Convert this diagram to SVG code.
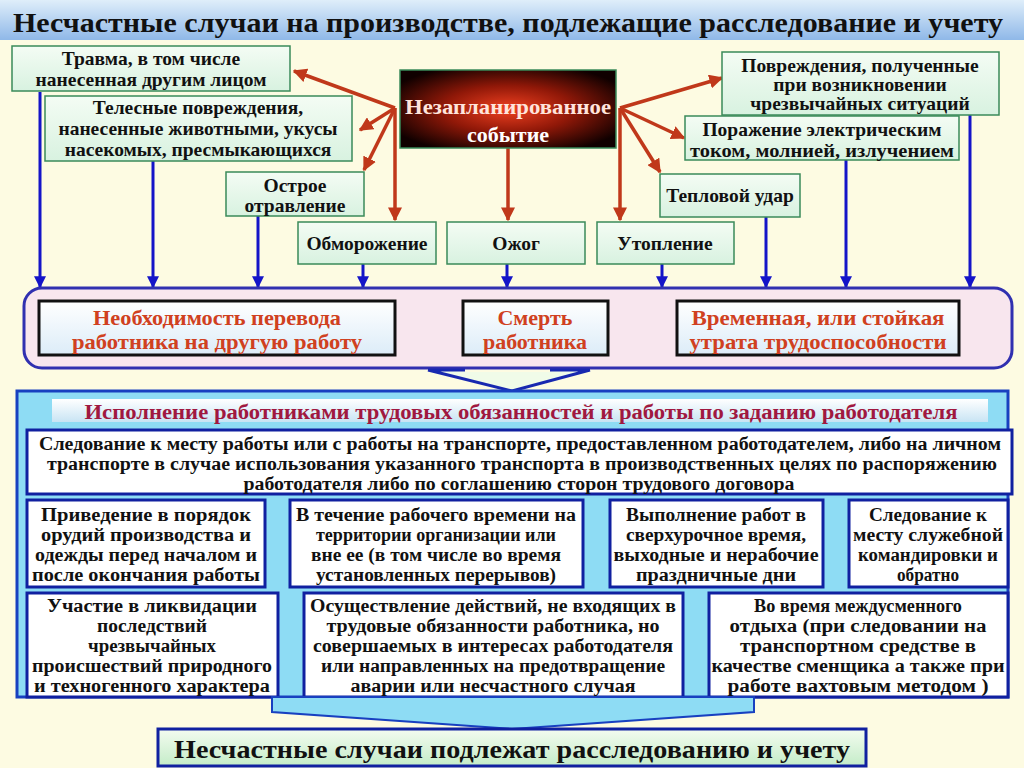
<svg xmlns="http://www.w3.org/2000/svg" width="1024" height="768" viewBox="0 0 1024 768">
<defs>
<linearGradient id="gTitle" x1="0" y1="0" x2="0" y2="1"><stop offset="0" stop-color="#dfeefa"/><stop offset="1" stop-color="#8fb8e8"/></linearGradient>
<linearGradient id="gGreen" x1="0" y1="0" x2="0" y2="1"><stop offset="0" stop-color="#f4fcf4"/><stop offset="1" stop-color="#d8f2e0"/></linearGradient>
<radialGradient id="gDark" cx="0.5" cy="0.5" r="0.6"><stop offset="0" stop-color="#f04020"/><stop offset="0.5" stop-color="#901808"/><stop offset="1" stop-color="#100000"/></radialGradient>
<linearGradient id="gInner" x1="0" y1="0" x2="0" y2="1"><stop offset="0" stop-color="#ffffff"/><stop offset="1" stop-color="#dcecf8"/></linearGradient>
<linearGradient id="gHead" x1="0" y1="0" x2="0" y2="1"><stop offset="0" stop-color="#ffffff"/><stop offset="1" stop-color="#c8e4f4"/></linearGradient>
<linearGradient id="gFinal" x1="0" y1="0" x2="0" y2="1"><stop offset="0" stop-color="#f4fcf0"/><stop offset="1" stop-color="#c4ecc8"/></linearGradient>
<marker id="aR" viewBox="0 0 10 10" refX="9" refY="5" markerWidth="4" markerHeight="4" orient="auto"><path d="M0,0 L10,5 L0,10 Z" fill="#c0381a"/></marker>
<marker id="aB" viewBox="0 0 10 10" refX="9" refY="5" markerWidth="4" markerHeight="4" orient="auto"><path d="M0,0 L10,5 L0,10 Z" fill="#1414c8"/></marker>
</defs>
<style>
text{font-family:"Liberation Serif","Times New Roman",serif;font-weight:bold;text-anchor:middle}
.g{fill:url(#gGreen);stroke:#3a8a5a;stroke-width:1.5}
.t15{font-size:19.5px;fill:#111}
.red{stroke:#c0381a;stroke-width:3.5;fill:none;marker-end:url(#aR)}
.blue{stroke:#1414c8;stroke-width:3;fill:none;marker-end:url(#aB)}
.inner{fill:url(#gInner);stroke:#111;stroke-width:3}
.rt{font-size:22px;fill:#d04020}
.w{fill:#fff;stroke:#1020a0;stroke-width:3}
.c{font-size:18px;fill:#111}
</style>
<rect width="1024" height="768" fill="#fdfbe2"/>
<rect width="1024" height="40" fill="url(#gTitle)"/>
<text x="508" y="32" font-size="27" fill="#111" textLength="990" lengthAdjust="spacingAndGlyphs">Несчастные случаи на производстве, подлежащие расследование и учету</text>

<g id="connectors">
<path class="red" d="M395,108 L294,71"/>
<path class="red" d="M395,108 L360,130"/>
<path class="red" d="M395,108 L364,170"/>
<path class="red" d="M395,108 L395,220"/>
<path class="red" d="M508,148 L508,220"/>
<path class="red" d="M620,108 L722,78"/>
<path class="red" d="M620,108 L684,138"/>
<path class="red" d="M620,108 L660,172"/>
<path class="red" d="M620,108 L620,220"/>
<path class="blue" d="M40,92 L40,287"/>
<path class="blue" d="M153,161 L153,287"/>
<path class="blue" d="M258,216 L258,287"/>
<path class="blue" d="M363,264 L363,287"/>
<path class="blue" d="M507,264 L507,287"/>
<path class="blue" d="M662,264 L662,287"/>
<path class="blue" d="M766,217 L766,287"/>
<path class="blue" d="M846,160 L846,287"/>
<path class="blue" d="M970,115 L970,287"/>
</g>

<g id="n-trauma"><rect class="g" x="12" y="46" width="278" height="45"/><text class="t15" x="151" y="65">Травма, в том числе</text><text class="t15" x="151" y="86">нанесенная другим лицом</text></g>
<g id="n-animals"><rect class="g" x="45" y="96" width="307" height="65"/><text class="t15" x="198" y="114">Телесные повреждения,</text><text class="t15" x="198" y="135">нанесенные животными, укусы</text><text class="t15" x="198" y="156">насекомых, пресмыкающихся</text></g>
<g id="n-poison"><rect class="g" x="226" y="172" width="138" height="44"/><text class="t15" x="295" y="192">Острое</text><text class="t15" x="295" y="212">отравление</text></g>
<g id="n-frost"><rect class="g" x="298" y="222" width="138" height="42"/><text class="t15" x="367" y="250">Обморожение</text></g>
<g id="n-burn"><rect class="g" x="447" y="222" width="138" height="42"/><text class="t15" x="516" y="250">Ожог</text></g>
<g id="n-drown"><rect class="g" x="597" y="222" width="137" height="42"/><text class="t15" x="665" y="250">Утопление</text></g>
<g id="n-heat"><rect class="g" x="660" y="174" width="140" height="43"/><text class="t15" x="730" y="202">Тепловой удар</text></g>
<g id="n-elec"><rect class="g" x="685" y="116" width="274" height="44"/><text class="t15" x="822" y="136">Поражение электрическим</text><text class="t15" x="822" y="157" textLength="264" lengthAdjust="spacingAndGlyphs">током, молнией, излучением</text></g>
<g id="n-emerg"><rect class="g" x="722" y="52" width="277" height="63"/><text class="t15" x="860" y="72">Повреждения, полученные</text><text class="t15" x="860" y="91">при возникновении</text><text class="t15" x="860" y="110">чрезвычайных ситуаций</text></g>
<g id="n-event"><rect x="400" y="70" width="216" height="78" fill="url(#gDark)" stroke="#3a8a5a" stroke-width="1.5"/><text x="508" y="114" font-size="22" fill="#ffe4dc" textLength="206" lengthAdjust="spacingAndGlyphs">Незапланированное</text><text x="508" y="142" font-size="22" fill="#ffffff">событие</text></g>

<g id="n-results">
<rect x="24" y="288" width="988" height="80" rx="18" fill="#f8e6ee" stroke="#3030b0" stroke-width="3"/>
<rect class="inner" x="39" y="301" width="356" height="54"/><text class="rt" x="217" y="325" textLength="248" lengthAdjust="spacingAndGlyphs">Необходимость перевода</text><text class="rt" x="217" y="349" textLength="290" lengthAdjust="spacingAndGlyphs">работника на другую работу</text>
<rect class="inner" x="463" y="301" width="145" height="54"/><text class="rt" x="535" y="325">Смерть</text><text class="rt" x="535" y="349">работника</text>
<rect class="inner" x="677" y="301" width="282" height="54"/><text class="rt" x="818" y="325" textLength="253" lengthAdjust="spacingAndGlyphs">Временная, или стойкая</text><text class="rt" x="818" y="349" textLength="257" lengthAdjust="spacingAndGlyphs">утрата трудоспособности</text>
</g>
<path d="M428,370 L465,370 L465,372 L550,372 L550,370 L590,370 L512,391 Z" fill="#f0fbe8" stroke="none"/>
<path d="M428,370 L465,370 M550,370 L590,370 M428,370 L512,391 L590,370" stroke="#1828b0" stroke-width="3" fill="none"/>

<g id="n-duties">
<rect x="17" y="391" width="991" height="306" fill="#8edcf4" stroke="#1840c0" stroke-width="3"/>
<rect x="52" y="399" width="936" height="23" fill="url(#gHead)"/>
<text x="521" y="419" font-size="20" fill="#a01840" textLength="873" lengthAdjust="spacingAndGlyphs">Исполнение работниками трудовых обязанностей и работы по заданию работодателя</text>
<rect class="w" x="27" y="430" width="985" height="64"/>
<text class="c" x="520" y="450" textLength="962" lengthAdjust="spacingAndGlyphs">Следование к месту работы или с работы на транспорте, предоставленном работодателем, либо на личном</text>
<text class="c" x="522" y="470" textLength="950" lengthAdjust="spacingAndGlyphs">транспорте в случае использования указанного транспорта в производственных целях по распоряжению</text>
<text class="c" x="519" y="490" textLength="551" lengthAdjust="spacingAndGlyphs">работодателя либо по соглашению сторон трудового договора</text>
<rect class="w" x="27" y="500" width="238" height="87"/>
<text class="c" x="146" y="521" textLength="210" lengthAdjust="spacingAndGlyphs">Приведение в порядок</text>
<text class="c" x="146" y="541" textLength="210" lengthAdjust="spacingAndGlyphs">орудий производства и</text>
<text class="c" x="146" y="561" textLength="222" lengthAdjust="spacingAndGlyphs">одежды перед началом и</text>
<text class="c" x="146" y="581" textLength="228" lengthAdjust="spacingAndGlyphs">после окончания работы</text>
<rect class="w" x="290" y="500" width="293" height="87"/>
<text class="c" x="436" y="521" textLength="280" lengthAdjust="spacingAndGlyphs">В течение рабочего времени на</text>
<text class="c" x="436" y="541" textLength="240" lengthAdjust="spacingAndGlyphs">территории организации или</text>
<text class="c" x="436" y="561" textLength="250" lengthAdjust="spacingAndGlyphs">вне ее (в том числе во время</text>
<text class="c" x="436" y="581" textLength="240" lengthAdjust="spacingAndGlyphs">установленных перерывов)</text>
<rect class="w" x="610" y="500" width="213" height="87"/>
<text class="c" x="716" y="521" textLength="180" lengthAdjust="spacingAndGlyphs">Выполнение работ в</text>
<text class="c" x="716" y="541" textLength="180" lengthAdjust="spacingAndGlyphs">сверхурочное время,</text>
<text class="c" x="716" y="561" textLength="205" lengthAdjust="spacingAndGlyphs">выходные и нерабочие</text>
<text class="c" x="716" y="581" textLength="160" lengthAdjust="spacingAndGlyphs">праздничные дни</text>
<rect class="w" x="849" y="500" width="159" height="87"/>
<text class="c" x="928" y="521" textLength="118" lengthAdjust="spacingAndGlyphs">Следование к</text>
<text class="c" x="928" y="541" textLength="150" lengthAdjust="spacingAndGlyphs">месту служебной</text>
<text class="c" x="928" y="561" textLength="140" lengthAdjust="spacingAndGlyphs">командировки и</text>
<text class="c" x="928" y="581" textLength="62" lengthAdjust="spacingAndGlyphs">обратно</text>
<rect class="w" x="27" y="593" width="251" height="104"/>
<text class="c" x="152" y="612" textLength="210" lengthAdjust="spacingAndGlyphs">Участие в ликвидации</text>
<text class="c" x="152" y="632" textLength="110" lengthAdjust="spacingAndGlyphs">последствий</text>
<text class="c" x="152" y="652" textLength="128" lengthAdjust="spacingAndGlyphs">чрезвычайных</text>
<text class="c" x="152" y="672" textLength="240" lengthAdjust="spacingAndGlyphs">происшествий природного</text>
<text class="c" x="152" y="692" textLength="236" lengthAdjust="spacingAndGlyphs">и техногенного характера</text>
<rect class="w" x="304" y="593" width="379" height="104"/>
<text class="c" x="493" y="612" textLength="366" lengthAdjust="spacingAndGlyphs">Осуществление действий, не входящих в</text>
<text class="c" x="493" y="632" textLength="333" lengthAdjust="spacingAndGlyphs">трудовые обязанности работника, но</text>
<text class="c" x="493" y="652" textLength="360" lengthAdjust="spacingAndGlyphs">совершаемых в интересах работодателя</text>
<text class="c" x="493" y="672" textLength="344" lengthAdjust="spacingAndGlyphs">или направленных на предотвращение</text>
<text class="c" x="493" y="692" textLength="285" lengthAdjust="spacingAndGlyphs">аварии или несчастного случая</text>
<rect class="w" x="709" y="593" width="299" height="104"/>
<text class="c" x="858" y="612" textLength="208" lengthAdjust="spacingAndGlyphs">Во время междусменного</text>
<text class="c" x="858" y="632" textLength="257" lengthAdjust="spacingAndGlyphs">отдыха (при следовании на</text>
<text class="c" x="858" y="652" textLength="236" lengthAdjust="spacingAndGlyphs">транспортном средстве в</text>
<text class="c" x="858" y="672" textLength="293" lengthAdjust="spacingAndGlyphs">качестве сменщика а также при</text>
<text class="c" x="858" y="692" textLength="261" lengthAdjust="spacingAndGlyphs">работе вахтовым методом )</text>
</g>
<path d="M272,697 L272,712 L512,729 L754,712 L754,697 Z" fill="#8edcf4" stroke="#1840c0" stroke-width="2"/>
<g id="n-final"><rect x="158" y="729" width="708" height="37" fill="url(#gFinal)" stroke="#1020a0" stroke-width="3"/><text x="512" y="758" font-size="25" fill="#111" textLength="676" lengthAdjust="spacingAndGlyphs">Несчастные случаи подлежат расследованию и учету</text></g>
</svg>
